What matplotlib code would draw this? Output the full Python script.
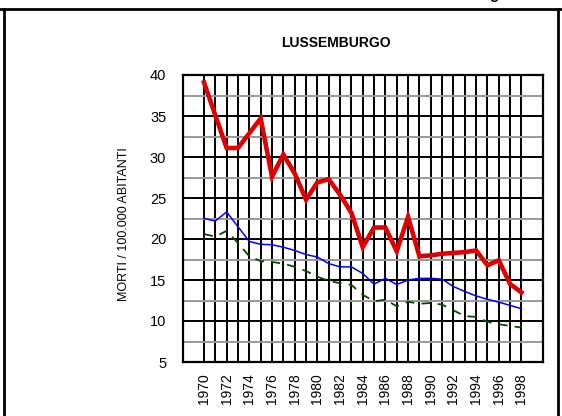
import numpy as np
import matplotlib
matplotlib.use("Agg")
import matplotlib.pyplot as plt
from matplotlib.lines import Line2D

plt.rcParams['font.family'] = ['Liberation Sans Narrow', 'Liberation Sans', 'DejaVu Sans']

years = list(range(1970, 1999))
red_vals = [39.1, 35.1, 31.1, 31.1, 32.9, 34.7, 27.6, 30.3, 28.0, 24.8,
            26.9, 27.3, 25.4, 23.2, 19.0, 21.4, 21.4, 18.5, 22.7, 17.9,
            18.0, 18.2, 18.3, 18.4, 18.6, 16.8, 17.4, 14.5, 13.5]
blue_vals = [22.5, 22.2, 23.3, 21.5, 19.7, 19.35, 19.3, 19.0, 18.6, 18.1,
             17.8, 17.0, 16.6, 16.6, 15.8, 14.5, 15.2, 14.45, 15.0, 15.2,
             15.2, 15.1, 14.2, 13.6, 13.05, 12.65, 12.3, 11.9, 11.5]
green_vals = [20.6, 20.3, 21.0, 19.5, 17.9, 17.3, 17.2, 17.0, 16.6, 16.1,
              15.4, 14.9, 14.6, 14.4, 13.2, 12.4, 12.6, 11.8, 12.35, 12.1,
              12.2, 12.0, 11.3, 10.6, 10.5, 9.9, 9.6, 9.4, 9.2]
xtick_labels = [str(y) if y % 2 == 0 else '' for y in years]
yticks = [5, 10, 15, 20, 25, 30, 35, 40]

W, H = 562, 416
fig = plt.figure(figsize=(W / 100, H / 100), dpi=100)
ax = fig.add_axes([183 / W, 1 - 362 / H, (543 - 183) / W, (362 - 75) / H])

ax.set_xlim(1968.15, 1999.9)
ax.set_ylim(5, 40)

# grid: black every year / every 5, grey half-steps
ax.set_xticks(years)
ax.set_xticklabels(xtick_labels, rotation=90, fontsize=10)
ax.set_yticks(yticks)
ax.set_yticks([7.5, 12.5, 17.5, 22.5, 27.5, 32.5, 37.5], minor=True)
ax.set_yticklabels([str(v) for v in yticks], fontsize=10.5)
ax.tick_params(axis='both', which='both', length=0)
ax.tick_params(axis='x', pad=8)
ax.tick_params(axis='y', pad=12)
ax.grid(True, which='major', color='black', linewidth=1.4)
ax.grid(True, which='minor', axis='y', color='#999999', linewidth=1.4)
ax.set_axisbelow(True)
for s in ax.spines.values():
    s.set_linewidth(1.6)
    s.set_color('black')

ax.plot(years, green_vals, color='#004d00', linewidth=1.3, dashes=(5, 4))
ax.plot(years, blue_vals, color='#0000ff', linewidth=1.1)
ax.plot(years, red_vals, color='#e00000', linewidth=3.3, solid_joinstyle='miter')

ax.set_ylabel('MORTI / 100.000 ABITANTI', fontsize=9)
ax.yaxis.set_label_coords(-(183 - 130) / 360, 0.48)

fig.text(336 / W, 1 - 43 / H, 'LUSSEMBURGO', ha='center', va='center',
         fontsize=10, fontweight='bold', family=['Liberation Sans', 'DejaVu Sans'])

# page frame around the chart
fig.add_artist(Line2D([0, 1], [1 - 8.5 / H, 1 - 8.5 / H], color='black', linewidth=2))
fig.add_artist(Line2D([3.5 / W, 3.5 / W], [0, 1 - 8.5 / H], color='black', linewidth=2))
fig.add_artist(Line2D([557.5 / W, 557.5 / W], [0, 1 - 8.5 / H], color='black', linewidth=2))
fig.text(494 / W, 1 + 1 / H, 'g', ha='center', va='baseline', fontsize=11,
         fontweight='bold', family=['Liberation Sans', 'DejaVu Sans'])

fig.savefig('out.png', dpi=100)
